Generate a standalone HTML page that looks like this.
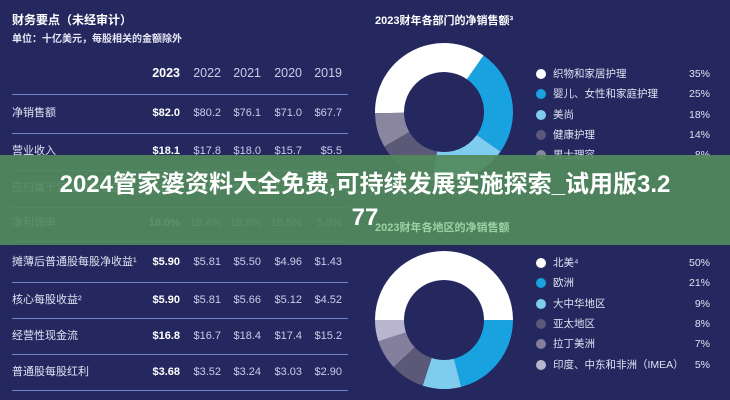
<!DOCTYPE html><html><head><meta charset="utf-8"><style>
body{margin:0;width:730px;height:400px;overflow:hidden;background:#25285f;font-family:"Liberation Sans","Noto Sans CJK SC",sans-serif;color:#c9cde8;position:relative}
.a{position:absolute;white-space:nowrap}
.h{font-weight:bold;color:#fff;font-size:11px}
.r{font-size:11px;line-height:14px}
.n{position:absolute;font-size:11px;line-height:14px;text-align:right;width:50px}
.ln{position:absolute;left:12px;width:336px;height:1px;background:#6f86c8}
.lg{position:absolute;font-size:10.5px;line-height:14px;color:#dfe2f2}
.dot{position:absolute;width:10px;height:10px;border-radius:50%}
</style></head><body>
<div class="a h" style="left:12px;top:11px;font-size:12px">财务要点（未经审计）</div>
<div class="a" style="left:12px;top:30px;font-size:10px;color:#e6e8f5;font-weight:bold">单位：十亿美元，每股相关的金额除外</div>
<div id="tbl"></div>
<div class="a h" style="left:375px;top:12px;font-size:11px">2023财年各部门的净销售额³</div>
<svg class="a" style="left:0;top:0" width="730" height="400" id="s"></svg>
<div id="leg"></div>
<div class="a" style="left:0;top:155px;width:730px;height:90px;background:rgba(82,138,92,0.93)"></div>
<div class="a" style="left:375px;top:219px;font-size:11px;font-weight:bold;color:#9fd0a4">2023财年各地区的净销售额</div>
<div class="a" style="left:0;width:730px;text-align:center;top:170px;font-size:24px;line-height:30px;font-weight:bold;color:#fff">2024管家婆资料大全免费,可持续发展实施探索_试用版3.2</div>
<div class="a" style="left:0;width:730px;text-align:center;top:203px;font-size:24px;line-height:30px;font-weight:bold;color:#fff">77</div>
<script>
var rows=[["",["2023","2022","2021","2020","2019"],73],["净销售额",["$82.0","$80.2","$76.1","$71.0","$67.7"],113],["营业收入",["$18.1","$17.8","$18.0","$15.7","$5.5"],151],["应归属于宝洁的净收益",["$14.7","$14.7","$14.4","$13.0","$3.9"],188],["净利润率",["18.0%","18.4%","18.9%","18.5%","5.9%"],223],["摊薄后普通股每股净收益¹",["$5.90","$5.81","$5.50","$4.96","$1.43"],262],["核心每股收益²",["$5.90","$5.81","$5.66","$5.12","$4.52"],300],["经营性现金流",["$16.8","$16.7","$18.4","$17.4","$15.2"],336],["普通股每股红利",["$3.68","$3.52","$3.24","$3.03","$2.90"],372]];
var xs=[180,221,261,302,342],h="";
rows.forEach(function(r,i){var t=r[2]-7;h+='<div class="a r" style="left:12px;top:'+t+'px;color:#dfe2f2">'+r[0]+'</div>';
r[1].forEach(function(v,j){h+='<div class="n" style="left:'+(xs[j]-50)+'px;top:'+t+'px;'+(j==0?'font-weight:bold;color:#fff;':'')+(i==0?'font-size:12.5px;':'')+'">'+v+'</div>'});});
[94,133,170,207,241,282,318,354,390].forEach(function(y){h+='<div class="ln" style="top:'+y+'px"></div>'});
document.getElementById('tbl').innerHTML=h;
function donut(cx,cy,R,r,segs){var s="";segs.forEach(function(g){var a0=(g[0]-90)*Math.PI/180,a1=(g[1]-90)*Math.PI/180,lg=(g[1]-g[0])>180?1:0;
s+='<path fill="'+g[2]+'" d="M'+(cx+R*Math.cos(a0))+' '+(cy+R*Math.sin(a0))+'A'+R+' '+R+' 0 '+lg+' 1 '+(cx+R*Math.cos(a1))+' '+(cy+R*Math.sin(a1))+'L'+(cx+r*Math.cos(a1))+' '+(cy+r*Math.sin(a1))+'A'+r+' '+r+' 0 '+lg+' 0 '+(cx+r*Math.cos(a0))+' '+(cy+r*Math.sin(a0))+'Z"/>'});return s;}
var c1=["#ffffff","#18a2df","#7ecdee","#5c5878","#8a86a0"],c2=["#ffffff","#18a2df","#7ecdee","#5c5878","#857f9e","#b9b5cf"];
document.getElementById('s').innerHTML=donut(444,112,69,40,[[-91,35,c1[0]],[35,125,c1[1]],[125,190,c1[2]],[190,240,c1[3]],[240,269,c1[4]]])+donut(444,320,69,40,[[-90,90,c2[0]],[90,165.6,c2[1]],[165.6,198,c2[2]],[198,227,c2[3]],[227,252,c2[4]],[252,270,c2[5]]]);
var L1=[["织物和家居护理","35%"],["婴儿、女性和家庭护理","25%"],["美尚","18%"],["健康护理","14%"],["男士理容","8%"]],L2=[["北美⁴","50%"],["欧洲","21%"],["大中华地区","9%"],["亚太地区","8%"],["拉丁美洲","7%"],["印度、中东和非洲（IMEA）","5%"]];
var g="";function leg(L,y0,c){L.forEach(function(l,i){var y=y0+i*20.3;g+='<div class="dot" style="left:536px;top:'+(y-5)+'px;background:'+c[i]+'"></div><div class="lg" style="left:553px;top:'+(y-7)+'px">'+l[0]+'</div><div class="lg" style="left:650px;width:60px;text-align:right;top:'+(y-7)+'px">'+l[1]+'</div>'});}
leg(L1,74,c1);leg(L2,263,c2);document.getElementById('leg').innerHTML=g;
</script>
</body></html>
